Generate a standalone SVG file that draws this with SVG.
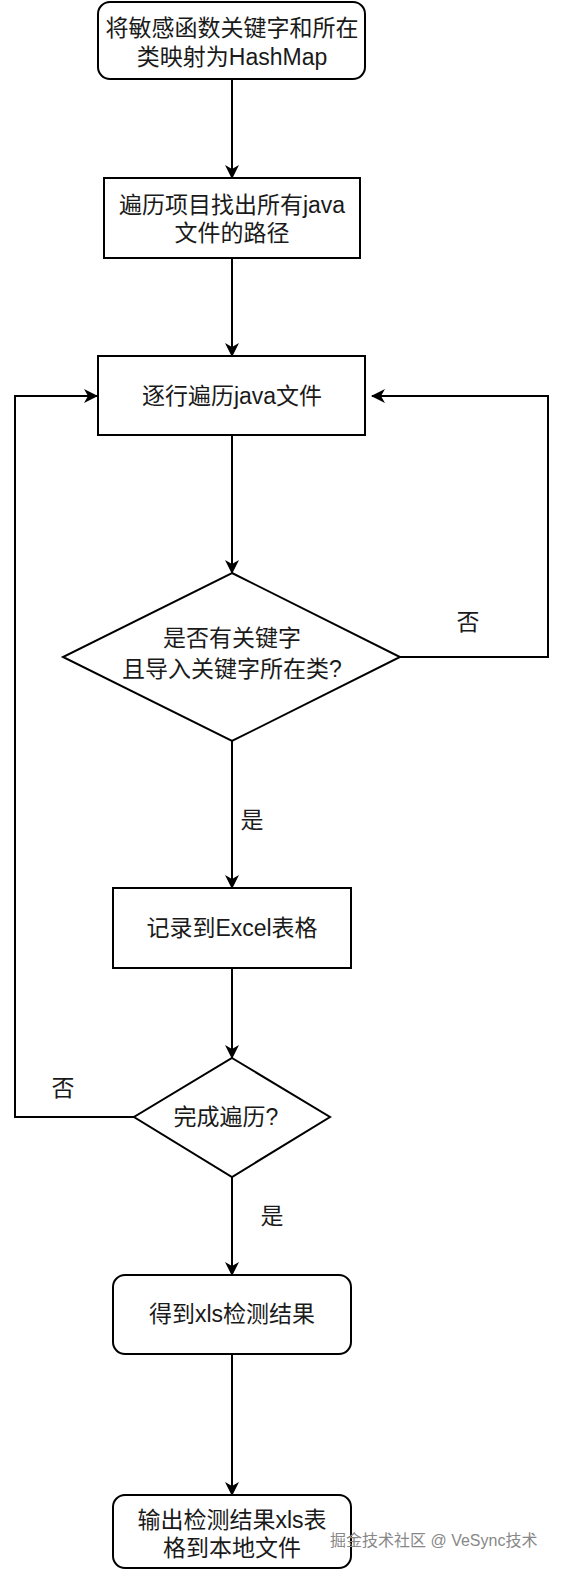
<svg xmlns="http://www.w3.org/2000/svg" width="572" height="1588" viewBox="0 0 572 1588">
<style>
.n{fill:#fff;stroke:#000;stroke-width:2}
.t{font-family:"Liberation Sans","Noto Sans CJK SC",sans-serif;font-size:23px;fill:#1a1a1a;text-anchor:middle;dominant-baseline:central}
.e{fill:none;stroke:#000;stroke-width:2}
.wm{font-family:"Liberation Sans","Noto Sans CJK SC",sans-serif;font-size:16px;fill:#888;dominant-baseline:central}
</style>
<defs>
<marker id="a" viewBox="0 0 14 14" refX="13" refY="7" markerWidth="14" markerHeight="14" markerUnits="userSpaceOnUse" orient="auto">
<path d="M0,0 L14,7 L0,14 L4,7 Z" fill="#000"/>
</marker>
</defs>
<rect width="572" height="1588" fill="#fff"/>
<g id="edges">
<path class="e" d="M232,79 V178" marker-end="url(#a)"/>
<path class="e" d="M232,258 V356" marker-end="url(#a)"/>
<path class="e" d="M232,435 V573" marker-end="url(#a)"/>
<path class="e" d="M400,657 H548 V396 H372" marker-end="url(#a)"/>
<path class="e" d="M232,741 V888" marker-end="url(#a)"/>
<path class="e" d="M232,968 V1058" marker-end="url(#a)"/>
<path class="e" d="M134,1117 H15 V396 H97" marker-end="url(#a)"/>
<path class="e" d="M232,1177 V1275" marker-end="url(#a)"/>
<path class="e" d="M232,1354 V1495" marker-end="url(#a)"/>
<text class="t" x="468" y="622">否</text>
<text class="t" x="252" y="820">是</text>
<text class="t" x="63" y="1088">否</text>
<text class="t" x="272" y="1216">是</text>
</g>
<g id="n1">
<rect class="n" x="98" y="2" width="267" height="77" rx="12"/>
<text class="t"><tspan x="232" y="28">将敏感函数关键字和所在</tspan><tspan x="232" y="57">类映射为HashMap</tspan></text>
</g>
<g id="n2">
<rect class="n" x="104" y="178" width="256" height="80"/>
<text class="t"><tspan x="232" y="205">遍历项目找出所有java</tspan><tspan x="232" y="233">文件的路径</tspan></text>
</g>
<g id="n3">
<rect class="n" x="98" y="356" width="267" height="79"/>
<text class="t" x="232" y="396">逐行遍历java文件</text>
</g>
<g id="d1">
<polygon class="n" points="232,573 400,657 232,741 63,657"/>
<text class="t"><tspan x="232" y="638">是否有关键字</tspan><tspan x="232" y="669">且导入关键字所在类?</tspan></text>
</g>
<g id="n4">
<rect class="n" x="113" y="888" width="238" height="80"/>
<text class="t" x="232" y="928">记录到Excel表格</text>
</g>
<g id="d2">
<polygon class="n" points="232,1058 330,1117 232,1177 134,1117"/>
<text class="t" x="226" y="1117">完成遍历?</text>
</g>
<g id="n5">
<rect class="n" x="113" y="1275" width="238" height="79" rx="12"/>
<text class="t" x="232" y="1314">得到xls检测结果</text>
</g>
<g id="n6">
<rect class="n" x="113" y="1495" width="238" height="73" rx="12"/>
<text class="t"><tspan x="232" y="1520">输出检测结果xls表</tspan><tspan x="232" y="1548">格到本地文件</tspan></text>
</g>
<text class="wm" x="330" y="1540">掘金技术社区 @ VeSync技术</text>
</svg>
